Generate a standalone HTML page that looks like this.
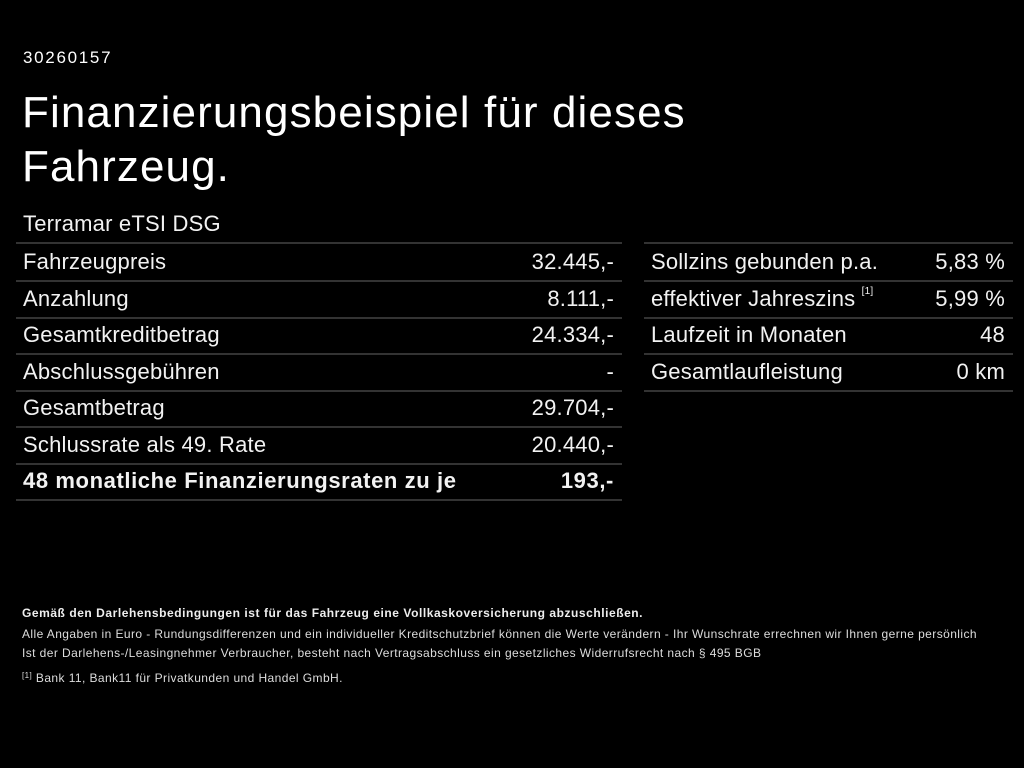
<!DOCTYPE html>
<html><head><meta charset="utf-8"><style>
body{margin:0;width:1024px;height:768px;background:#000;color:#fff;font-family:"Liberation Sans",sans-serif;position:relative;overflow:hidden}
.a{position:absolute;white-space:nowrap}
.r{position:absolute;height:36px;border-bottom:2px solid #333;font-size:22px;line-height:36px;color:#f2f2f2;letter-spacing:0.2px}
.r span{position:absolute;right:8px;top:0}
sup{font-size:10px;vertical-align:top;line-height:22px}
.s{font-size:12px;color:#ddd;position:absolute;left:22px;white-space:nowrap;letter-spacing:0.42px}
</style></head><body>
<div class="a" style="left:23px;top:48px;font-size:17px;letter-spacing:1.7px">30260157</div>
<div class="a" style="left:22px;top:86px;font-size:44px;line-height:54px;color:#fff;letter-spacing:1.1px">Finanzierungsbeispiel für dieses<br>Fahrzeug.</div>
<div class="a" style="left:23px;top:211px;font-size:22px;color:#f2f2f2;letter-spacing:0.2px">Terramar eTSI DSG</div>
<div style="position:absolute;left:16px;top:242px;width:606px;border-top:2px solid #333"></div>
<div style="position:absolute;left:644px;top:242px;width:369px;border-top:2px solid #333"></div>

<div class="r" style="left:16px;top:244px;width:606px;text-indent:7px">Fahrzeugpreis<span>32.445,-</span></div>
<div class="r" style="left:16px;top:280.5px;width:606px;text-indent:7px">Anzahlung<span>8.111,-</span></div>
<div class="r" style="left:16px;top:317px;width:606px;text-indent:7px">Gesamtkreditbetrag<span>24.334,-</span></div>
<div class="r" style="left:16px;top:353.5px;width:606px;text-indent:7px">Abschlussgebühren<span>-</span></div>
<div class="r" style="left:16px;top:390px;width:606px;text-indent:7px">Gesamtbetrag<span>29.704,-</span></div>
<div class="r" style="left:16px;top:426.5px;width:606px;text-indent:7px">Schlussrate als 49. Rate<span>20.440,-</span></div>
<div class="r" style="left:16px;top:463px;width:606px;text-indent:7px;font-weight:bold;letter-spacing:0.6px">48 monatliche Finanzierungsraten zu je<span>193,-</span></div>

<div class="r" style="left:644px;top:244px;width:369px;text-indent:7px">Sollzins gebunden p.a.<span>5,83 %</span></div>
<div class="r" style="left:644px;top:280.5px;width:369px;text-indent:7px">effektiver Jahreszins <sup>[1]</sup><span>5,99 %</span></div>
<div class="r" style="left:644px;top:317px;width:369px;text-indent:7px">Laufzeit in Monaten<span>48</span></div>
<div class="r" style="left:644px;top:353.5px;width:369px;text-indent:7px">Gesamtlaufleistung<span>0 km</span></div>

<div class="s" style="top:606px;font-weight:bold;color:#eee;letter-spacing:0.55px">Gemäß den Darlehensbedingungen ist für das Fahrzeug eine Vollkaskoversicherung abzuschließen.</div>
<div class="s" style="top:627px">Alle Angaben in Euro - Rundungsdifferenzen und ein individueller Kreditschutzbrief können die Werte verändern - Ihr Wunschrate errechnen wir Ihnen gerne persönlich</div>
<div class="s" style="top:646px">Ist der Darlehens-/Leasingnehmer Verbraucher, besteht nach Vertragsabschluss ein gesetzliches Widerrufsrecht nach § 495 BGB</div>
<div class="s" style="top:671px"><span style="font-size:8px;vertical-align:top">[1]</span> Bank 11, Bank11 für Privatkunden und Handel GmbH.</div>
</body></html>
